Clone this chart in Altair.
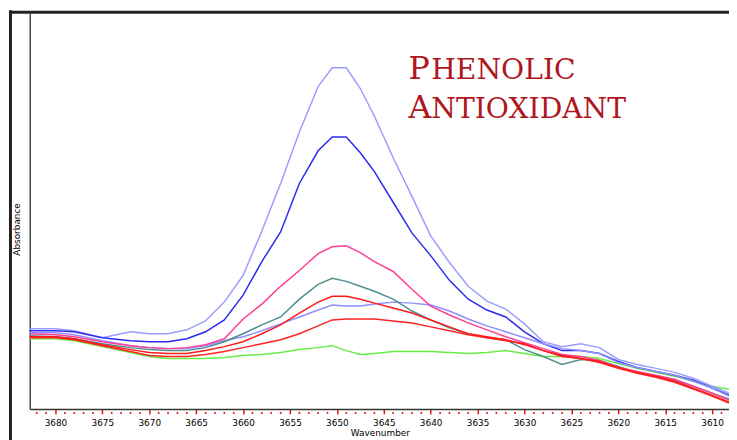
import altair as alt
import pandas as pd

# Wavenumber grid (cm-1)
wavenumber = [3682.74, 3680, 3678, 3675, 3672, 3670, 3668, 3666, 3664, 3662, 3660, 3658,
              3656, 3654, 3652, 3650.5, 3649, 3647.5, 3646, 3644, 3642, 3640, 3638, 3636,
              3634, 3632, 3630, 3628, 3626, 3624, 3622, 3620, 3618, 3616, 3614, 3612,
              3610, 3608.2]

# Absorbance of each spectrum (arbitrary units)
light_blue_1 = [0.081, 0.081, 0.079, 0.072, 0.078, 0.076, 0.076, 0.080, 0.089, 0.108, 0.135, 0.180,
                0.228, 0.280, 0.326, 0.345, 0.345, 0.324, 0.296, 0.254, 0.215, 0.175, 0.148, 0.124,
                0.109, 0.101, 0.086, 0.068, 0.063, 0.066, 0.062, 0.050, 0.045, 0.041, 0.037, 0.031,
                0.023, 0.016]
blue = [0.079, 0.079, 0.078, 0.072, 0.069, 0.068, 0.068, 0.071, 0.078, 0.090, 0.115, 0.149,
        0.179, 0.228, 0.261, 0.275, 0.275, 0.259, 0.240, 0.209, 0.178, 0.155, 0.130, 0.111,
        0.100, 0.093, 0.078, 0.066, 0.059, 0.059, 0.056, 0.048, 0.042, 0.038, 0.034, 0.029,
        0.021, 0.014]
pink = [0.076, 0.075, 0.073, 0.068, 0.064, 0.062, 0.061, 0.062, 0.065, 0.071, 0.091, 0.106,
        0.124, 0.140, 0.157, 0.164, 0.165, 0.158, 0.149, 0.139, 0.121, 0.104, 0.095, 0.087,
        0.080, 0.073, 0.067, 0.061, 0.055, 0.053, 0.049, 0.042, 0.038, 0.034, 0.030, 0.023,
        0.016, 0.009]
teal = [0.074, 0.073, 0.071, 0.066, 0.062, 0.060, 0.059, 0.059, 0.062, 0.068, 0.076, 0.085,
        0.093, 0.111, 0.126, 0.132, 0.129, 0.124, 0.119, 0.111, 0.099, 0.090, 0.082, 0.076,
        0.072, 0.070, 0.060, 0.053, 0.045, 0.050, 0.049, 0.043, 0.037, 0.033, 0.029, 0.023,
        0.016, 0.010]
light_blue_2 = [0.077, 0.077, 0.075, 0.069, 0.064, 0.062, 0.061, 0.061, 0.064, 0.069, 0.073, 0.079,
                0.086, 0.093, 0.100, 0.105, 0.104, 0.104, 0.106, 0.108, 0.107, 0.105, 0.099, 0.091,
                0.084, 0.078, 0.072, 0.066, 0.061, 0.059, 0.056, 0.047, 0.042, 0.038, 0.034, 0.028,
                0.021, 0.013]
red_1 = [0.073, 0.073, 0.071, 0.065, 0.060, 0.057, 0.056, 0.056, 0.059, 0.063, 0.068, 0.076,
         0.085, 0.097, 0.108, 0.114, 0.114, 0.111, 0.107, 0.102, 0.097, 0.090, 0.083, 0.076,
         0.073, 0.070, 0.065, 0.059, 0.054, 0.051, 0.048, 0.042, 0.037, 0.033, 0.028, 0.021,
         0.014, 0.007]
red_2 = [0.072, 0.072, 0.070, 0.064, 0.058, 0.054, 0.053, 0.053, 0.055, 0.058, 0.062, 0.066,
         0.070, 0.076, 0.084, 0.090, 0.091, 0.091, 0.091, 0.089, 0.087, 0.083, 0.079, 0.075,
         0.072, 0.069, 0.066, 0.059, 0.053, 0.051, 0.047, 0.041, 0.036, 0.032, 0.027, 0.020,
         0.013, 0.006]
green = [0.071, 0.071, 0.069, 0.063, 0.057, 0.053, 0.051, 0.051, 0.051, 0.052, 0.054, 0.055,
         0.057, 0.060, 0.062, 0.064, 0.059, 0.055, 0.056, 0.058, 0.058, 0.058, 0.057, 0.056,
         0.057, 0.059, 0.056, 0.053, 0.053, 0.053, 0.051, 0.046, 0.041, 0.037, 0.033, 0.028,
         0.023, 0.020]

series_names = ["g", "lb1", "b", "lb2", "t", "p", "r2", "r1"]
series_values = [green, light_blue_1, blue, light_blue_2, teal, pink, red_2, red_1]
series_colors = ["#66ee44", "#9c9cff", "#2b2bf0", "#8f8fff", "#4f8f8f", "#ff3f97", "#ff2424", "#ff1a1a"]

major_ticks = [3680, 3675, 3670, 3665, 3660, 3655, 3650, 3645, 3640, 3635, 3630, 3625, 3620, 3615, 3610]
minor_ticks = [w for w in range(3609, 3683) if w % 5 != 0]

title_lines = [("P", "HENOLIC"), ("A", "NTIOXIDANT")]
title_color = "#b0161e"

rows = []
for name, vals in zip(series_names, series_values):
    for w, a in zip(wavenumber, vals):
        rows.append({"wavenumber": w, "absorbance": a, "series": name})
df = pd.DataFrame(rows)

xscale = alt.Scale(domain=[3608.2, 3682.74], reverse=True, nice=False, zero=False)
yscale = alt.Scale(domain=[0, 0.4], nice=False, zero=False)

lines = alt.Chart(df).mark_line(strokeWidth=1.5).encode(
    x=alt.X("wavenumber:Q", scale=xscale,
            axis=alt.Axis(values=major_ticks, format="d", title="Wavenumber",
                          domainColor="#333333", domainWidth=1.5,
                          tickColor="#ee1111", tickSize=5, tickWidth=1.5,
                          labelFont="DejaVu Sans", labelFontSize=9, labelColor="#000000",
                          labelBaseline="alphabetic", labelPadding=12,
                          labelFlush=False, labelOverlap=False, grid=False,
                          titleFont="DejaVu Sans", titleFontSize=9, titleFontWeight="normal",
                          titleColor="#000000", titleX=354, titleY=27,
                          titleBaseline="alphabetic", titleAlign="center")),
    y=alt.Y("absorbance:Q", scale=yscale,
            axis=alt.Axis(ticks=False, labels=False, grid=False,
                          domainColor="#444444", domainWidth=1.5,
                          title="Absorbance", titleFont="DejaVu Sans", titleFontSize=9,
                          titleFontWeight="normal", titleColor="#000000",
                          titleAngle=-90, titleX=-13, titleY=218,
                          titleAlign="center", titleBaseline="middle")),
    color=alt.Color("series:N", scale=alt.Scale(domain=series_names, range=series_colors), legend=None),
    order=alt.value(0),
)

minor = alt.Chart(pd.DataFrame({"wavenumber": minor_ticks})).mark_rule(
    color="#ee1111", strokeWidth=1.6
).encode(
    x=alt.X("wavenumber:Q", scale=xscale),
    y=alt.value(403), y2=alt.value(405),
)

one = alt.Data(values=[{"k": 1}])
frame_left = alt.Chart(one).mark_rule(color="#222222", strokeWidth=3).encode(
    x=alt.value(-19.5), y=alt.value(-3), y2=alt.value(440))
frame_top = alt.Chart(one).mark_rule(color="#222222", strokeWidth=3).encode(
    x=alt.value(-21), x2=alt.value(710), y=alt.value(-1))

title_layers = []
for i, (initial, rest) in enumerate(title_lines):
    base_y = 66 + i * 40
    title_layers.append(
        alt.Chart(alt.Data(values=[{"t": initial}])).mark_text(
            font="DejaVu Serif", fontSize=32, color=title_color, align="left", baseline="alphabetic"
        ).encode(text="t:N", x=alt.value(383), y=alt.value(base_y))
    )
    title_layers.append(
        alt.Chart(alt.Data(values=[{"t": rest}])).mark_text(
            font="DejaVu Serif", fontSize=28.5, color=title_color, align="left", baseline="alphabetic"
        ).encode(text="t:N", x=alt.value(406), y=alt.value(base_y))
    )

chart = alt.layer(minor, lines, frame_left, frame_top, *title_layers).properties(
    width=707, height=400,
    autosize=alt.AutoSizeParams(type="none"),
    padding={"left": 22, "top": 3, "right": 0, "bottom": 29},
).configure_view(stroke=None)

chart.save("out.html", embed_options={"renderer": "svg", "actions": False})
